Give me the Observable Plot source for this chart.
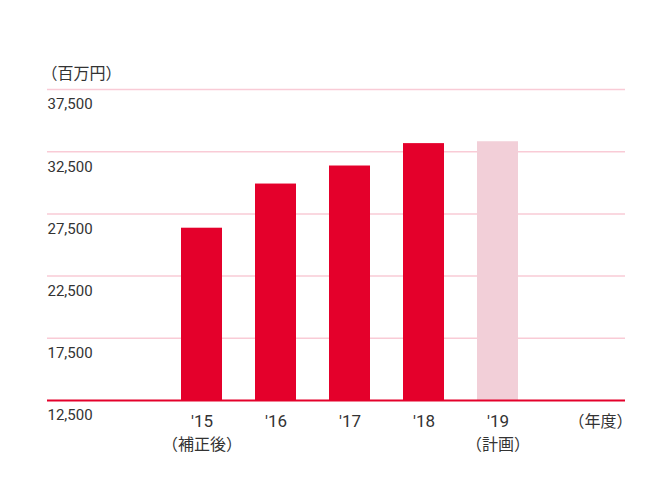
<!DOCTYPE html>
<html>
<head>
<meta charset="utf-8">
<script src="https://cdn.jsdelivr.net/npm/d3@7"></script>
<script src="https://cdn.jsdelivr.net/npm/@observablehq/plot@0.6"></script>
<style>
  html, body { margin: 0; padding: 0; background: #fff; }
  svg { display: block; }
</style>
</head>
<body>
<div id="chart"></div>
<script>
const years = ["'15", "'16", "'17", "'18", "'19"];
const sales = [26350, 29900, 31350, 33150, 33300];
const notes = ["（補正後）", "", "", "", "（計画）"];
const isPlan = [false, false, false, false, true];
const yTicks = [12500, 17500, 22500, 27500, 32500, 37500];
const unitLabel = "（百万円）";
const yearUnitLabel = "（年度）";

const data = years.map((y, i) => ({year: y, value: sales[i], note: notes[i], plan: isPlan[i]}));

const RED = "#e4002b";
const PINK = "#f2cfd8";
const GRID = "#f9cbd6";
const TEXT = "#333333";
const JP = "'Noto Sans CJK JP', sans-serif";
const NUM = "Roboto, sans-serif";

const chart = Plot.plot({
  width: 670,
  height: 502,
  marginTop: 89,
  marginBottom: 102,
  marginLeft: 47,
  marginRight: 45,
  style: {background: "#fff", color: TEXT},
  x: {domain: years, range: [164, 534], paddingInner: 0.45, paddingOuter: 0.225, axis: null},
  y: {domain: [12500, 37500], axis: null},
  marks: [
    Plot.ruleY(yTicks.filter(d => d > 12500), {y: d => d, stroke: GRID, strokeWidth: 1.5}),
    Plot.barY(data, {x: "year", y1: 12500, y2: "value", fill: d => d.plan ? PINK : RED}),
    Plot.ruleY([12500], {stroke: RED, strokeWidth: 2}),
    Plot.text(yTicks, {y: d => d, text: d => d3.format(",")(d), frameAnchor: "left", textAnchor: "start", dy: 15, fontSize: 15, fontFamily: NUM, fill: TEXT}),
    Plot.text(data, {x: "year", y: () => 12500, text: "year", dy: 21, fontSize: 17, fontFamily: NUM, fill: TEXT}),
    Plot.text(data.filter(d => d.note), {x: "year", y: () => 12500, text: "note", dy: 44, fontSize: 16, fontFamily: JP, fill: TEXT}),
    Plot.text([yearUnitLabel], {y: () => 12500, text: d => d, frameAnchor: "right", textAnchor: "end", dx: 7, dy: 21, fontSize: 16, fontFamily: JP, fill: TEXT}),
    Plot.text([unitLabel], {y: () => 37500, text: d => d, frameAnchor: "left", textAnchor: "start", dx: -6, dy: -16, fontSize: 16, fontFamily: JP, fill: TEXT})
  ]
});
document.getElementById("chart").appendChild(chart);
</script>
</body>
</html>
